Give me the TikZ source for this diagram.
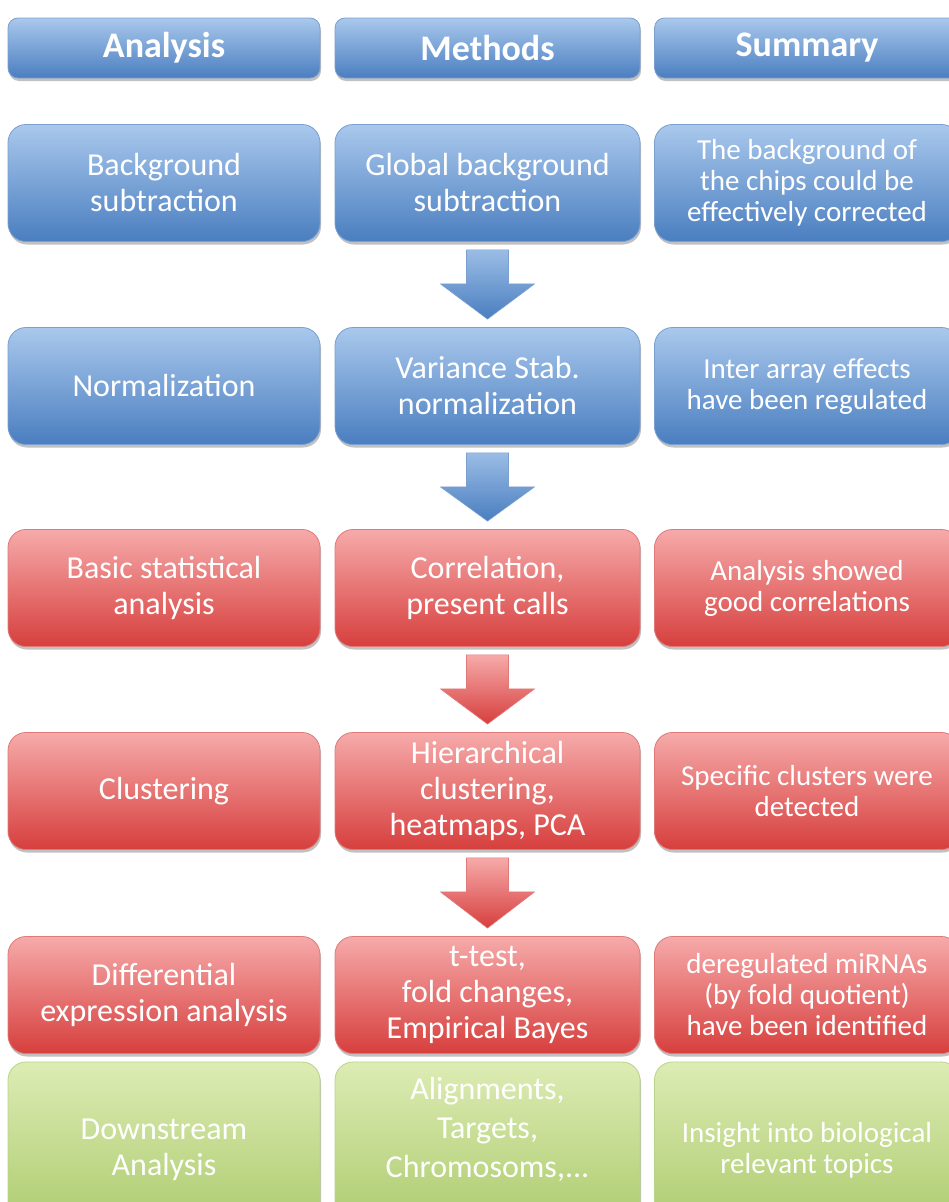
\documentclass[tikz,border=0pt]{standalone}
\usepackage{fontspec}
\setmainfont{Carlito}
\usetikzlibrary{shadows,calc}
\definecolor{btop}{HTML}{A9C8EC}
\definecolor{bbot}{HTML}{4A7EC0}
\definecolor{bdraw}{HTML}{7A9FD0}
\definecolor{rtop}{HTML}{F6AAAA}
\definecolor{rbot}{HTML}{D63F3D}
\definecolor{rdraw}{HTML}{E07A78}
\definecolor{gtop}{HTML}{DDECB4}
\definecolor{gbot}{HTML}{A9C96A}
\definecolor{gdraw}{HTML}{B8D48A}
\tikzset{
  box/.style={rounded corners=18pt, minimum height=117pt, align=center, text=white,
    inner sep=0pt, line width=0.8pt,
    font=\fontsize{32}{36}\selectfont,
    drop shadow={shadow xshift=1pt,shadow yshift=-3pt,opacity=0.35,fill=black!70}},
  wA/.style={minimum width=312pt},
  wB/.style={minimum width=305pt},
  wC/.style={minimum width=305pt},
  small/.style={font=\fontsize{29}{31}\selectfont},
  bluebox/.style={box, top color=btop, bottom color=bbot, draw=bdraw},
  redbox/.style={box, top color=rtop, bottom color=rbot, draw=rdraw},
  greenbox/.style={box, top color=gtop, bottom color=gbot, draw=gdraw},
  head/.style={bluebox, minimum height=60pt, rounded corners=10pt, font=\fontsize{36}{40}\selectfont\bfseries},
  bluearrow/.style={top color=btop!85!bbot, bottom color=bbot, draw=bdraw, line width=0.6pt},
  redarrow/.style={top color=rtop, bottom color=rbot, draw=rdraw, line width=0.6pt},
}
\newcommand{\blockarrow}[3]{%
  \path[#3] ($(#1.south)+(-21,8)$) -- ($(#1.south)+(21,8)$) -- ($(#1.south)+(21,42)$)
    -- ($(#1.south)+(47,42)$) -- ($(#2.north)+(0,-8)$) -- ($(#1.south)+(-47,42)$)
    -- ($(#1.south)+(-21,42)$) -- cycle;}
\begin{document}
\begin{tikzpicture}[x=1pt,y=-1pt]
\useasboundingbox (0,0) rectangle (949,1202);
\clip (0,0) rectangle (949,1202);
% header
\node[head, wA] (hA) at (164,48) {Analysis};
\node[head, wB] (hB) at (487.5,48) {Methods};
\node[head, wC] (hC) at (807,48) {Summary};
% row 1
\node[bluebox, wA] (a1) at (164,183) {Background\\subtraction};
\node[bluebox, wB] (m1) at (487.5,183) {Global background\\subtraction};
\node[bluebox, wC, small] (s1) at (807,183) {The background of\\the chips could be\\effectively corrected};
% row 2
\node[bluebox, wA] (a2) at (164,386) {Normalization};
\node[bluebox, wB] (m2) at (487.5,386) {Variance Stab.\\normalization};
\node[bluebox, wC, small] (s2) at (807,386) {Inter array effects\\have been regulated};
% row 3
\node[redbox, wA] (a3) at (164,588) {Basic statistical\\analysis};
\node[redbox, wB] (m3) at (487.5,588) {Correlation,\\present calls};
\node[redbox, wC, small] (s3) at (807,588) {Analysis showed\\good correlations};
% row 4
\node[redbox, wA] (a4) at (164,791) {Clustering};
\node[redbox, wB] (m4) at (487.5,791) {Hierarchical\\clustering,\\heatmaps, PCA};
\node[redbox, wC, small] (s4) at (807,791) {Specific clusters were\\detected};
% row 5
\node[redbox, wA] (a5) at (164,995) {Differential\\expression analysis};
\node[redbox, wB] (m5) at (487.5,995) {t-test,\\fold changes,\\Empirical Bayes};
\node[redbox, wC, small] (s5) at (807,995) {deregulated miRNAs\\(by fold quotient)\\have been identified};
% row 6
\node[greenbox, wA, minimum height=176pt] (a6) at (164,1150) {Downstream\\Analysis};
\node[greenbox, wB, minimum height=176pt] (m6) at (487.5,1150) {};
\node[align=center, text=white, font=\fontsize{32}{39}\selectfont] (m6t) at (487.5,1129) {Alignments,\\Targets,\\Chromosoms,...};
\node[greenbox, wC, small, minimum height=176pt] (s6) at (807,1150) {Insight into biological\\relevant topics};
% arrows
\blockarrow{m1}{m2}{bluearrow}
\blockarrow{m2}{m3}{bluearrow}
\blockarrow{m3}{m4}{redarrow}
\blockarrow{m4}{m5}{redarrow}
\end{tikzpicture}
\end{document}
